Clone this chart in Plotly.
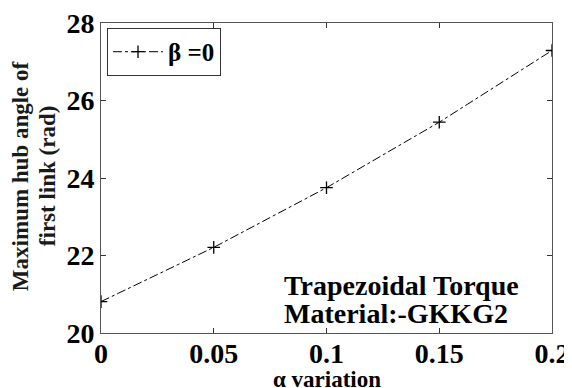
import plotly.graph_objects as go

alpha = [0, 0.05, 0.1, 0.15, 0.2]
hub_angle = [20.81, 22.21, 23.75, 25.44, 27.29]
x_ticks = [0, 0.05, 0.1, 0.15, 0.2]
x_tick_labels = ["0", "0.05", "0.1", "0.15", "0.2"]
y_ticks = [20, 22, 24, 26, 28]
y_tick_labels = ["20", "22", "24", "26", "28"]

FONT = "Liberation Serif"

fig = go.Figure()
fig.add_trace(go.Scatter(
    x=alpha, y=hub_angle, mode="lines+markers", name="<b>β =0</b>",
    line=dict(color="black", width=1, dash="dashdot"),
    marker=dict(symbol="cross-thin", size=9, line=dict(color="black", width=1.3)),
))

axis_common = dict(
    showline=True, linecolor="#555", linewidth=1, mirror="ticks",
    ticks="inside", ticklen=5, tickcolor="#333", tickwidth=1,
    showgrid=False, zeroline=False, automargin=False,
    ticklabeloverflow="allow",
    tickfont=dict(family=FONT, size=28, color="black"),
)

fig.update_xaxes(range=[0, 0.2], tickvals=x_ticks, ticklabelstandoff=-5,
                 ticktext=["<b>%s</b>" % t for t in x_tick_labels], **axis_common)
fig.update_yaxes(range=[20, 28], tickvals=y_ticks,
                 ticktext=["<b>%s</b>" % t for t in y_tick_labels], **axis_common)

fig.add_annotation(
    text="<b>α variation</b>", xref="paper", yref="paper",
    x=0.5, y=-0.103, xanchor="center", yanchor="top", showarrow=False,
    font=dict(family=FONT, size=23, color="black"),
)
for txt, xp in (("Maximum hub angle of", -0.1796), ("first link (rad)", -0.1197)):
    fig.add_annotation(
        text="<b>%s</b>" % txt, xref="paper", yref="paper",
        x=xp, y=0.506, xanchor="center", yanchor="middle", showarrow=False,
        textangle=-90, font=dict(family=FONT, size=23, color="#1a1a1a"),
    )
for txt, yp in (("Trapezoidal Torque", 0.152), ("Material:-GKKG2", 0.062)):
    fig.add_annotation(
        text="<b>%s</b>" % txt, xref="paper", yref="paper",
        x=0.401, y=yp, xanchor="left", yanchor="middle", showarrow=False,
        font=dict(family=FONT, size=28, color="black"),
    )

fig.update_layout(
    width=564, height=380,
    margin=dict(l=93, r=20, t=15, b=55, autoexpand=False),
    paper_bgcolor="white", plot_bgcolor="white",
    showlegend=True,
    legend=dict(
        x=0.0133, y=0.984, xanchor="left", yanchor="top",
        bordercolor="#333", borderwidth=1, bgcolor="white",
        font=dict(family=FONT, size=25, color="black"),
        itemwidth=50,
    ),
)

fig.write_html("out.html")
